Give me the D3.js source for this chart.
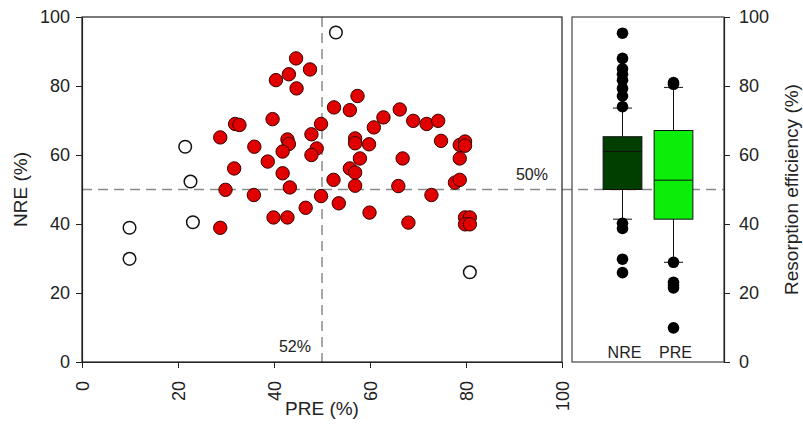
<!DOCTYPE html>
<html><head><meta charset="utf-8">
<script src="https://cdn.jsdelivr.net/npm/d3@7"></script>
<style>body{margin:0;background:#fff}svg{display:block;font-family:"Liberation Sans",Arial,sans-serif}</style>
</head><body><svg id="c" width="803" height="438"></svg>
<script>
// Scatter: filled (red) points
const filledPRE = [44.6,40.4,43.1,44.7,31.9,32.8,39.7,28.8,35.9,42.8,43.1,41.8,31.7,38.7,41.8,29.9,35.8,43.3,28.8,39.9,42.8,
  47.5,57.4,52.5,55.8,62.8,66.2,69.0,71.8,74.2,49.8,60.8,47.8,56.9,56.9,59.8,74.8,78.7,79.8,79.8,48.9,47.8,57.9,66.8,78.7,
  55.8,56.9,52.4,56.9,65.9,77.7,78.7,49.8,72.8,46.6,53.5,59.9,68.0,79.8,80.8,79.8,80.8];
const filledNRE = [88.0,81.7,83.4,79.3,69.0,68.7,70.4,65.1,62.4,64.5,63.2,61.0,56.1,58.1,54.7,49.9,48.4,50.6,38.9,41.9,41.9,
  84.8,77.1,73.8,73.0,70.9,73.2,69.9,69.0,69.9,69.0,68.0,66.0,64.8,63.4,63.1,64.1,62.9,63.9,62.7,61.9,60.0,59.0,59.0,59.0,
  56.1,54.9,52.8,51.1,51.0,52.0,52.8,48.1,48.4,44.7,46.0,43.3,40.4,41.9,41.9,39.9,39.9];
// Scatter: open points
const openPRE = [52.9,21.5,22.6,9.9,9.9,23.1,80.8];
const openNRE = [95.5,62.4,52.3,38.9,29.9,40.5,26.0];

const xTicks = [0,20,40,60,80,100];
const yTicks = [0,20,40,60,80,100];
const refNRE = 50, refPRE = 50;
const refLabelH = "50%", refLabelV = "52%";

// Box plot summaries
const boxCategories = ["NRE","PRE"];
const boxQ1 = [50.0, 41.4];
const boxMedian = [61.0, 52.7];
const boxQ3 = [65.3, 67.1];
const boxWhiskerLow = [41.4, 28.9];
const boxWhiskerHigh = [73.6, 79.6];
const boxOutliersNRE = [95.3,88.0,85.0,83.4,81.7,79.3,77.1,74.0,40.2,38.7,29.8,25.9];
const boxOutliersPRE = [81.0,80.5,28.9,23.1,22.3,21.5,9.9];
const boxColors = ["#003f00","#0aee0a"];

const svg = d3.select("#c");
const x = d3.scaleLinear().domain([0,100]).range([82,562]);
const y = d3.scaleLinear().domain([0,100]).range([362,17]);
const xb = d3.scaleBand().domain(boxCategories).range([572,724]).paddingInner(0).paddingOuter(0.49);

const dash = "10,6", dashColor = "#8a8a8a";

// reference lines (behind)
svg.append("line").attr("x1",x(0)).attr("x2",xb.range()[1]).attr("y1",y(refNRE)).attr("y2",y(refNRE))
  .attr("stroke",dashColor).attr("stroke-width",1.5).attr("stroke-dasharray",dash);
svg.append("line").attr("x1",x(refPRE)).attr("x2",x(refPRE)).attr("y1",y(100)).attr("y2",y(0))
  .attr("stroke",dashColor).attr("stroke-width",1.5).attr("stroke-dasharray",dash);

// frames
svg.append("rect").attr("x",x(0)).attr("y",y(100)).attr("width",x(100)-x(0)).attr("height",y(0)-y(100))
  .attr("fill","none").attr("stroke","#222").attr("stroke-width",1.2);
svg.append("rect").attr("x",xb.range()[0]).attr("y",y(100)).attr("width",xb.range()[1]-xb.range()[0]).attr("height",y(0)-y(100))
  .attr("fill","none").attr("stroke","#444").attr("stroke-width",1.2);

// axes
const fs = 18;
const gy = svg.append("g").attr("transform",`translate(${x(0)},0)`)
  .call(d3.axisLeft(y).tickValues(yTicks).tickSize(6).tickSizeOuter(0).tickPadding(6));
const gx = svg.append("g").attr("transform",`translate(0,${y(0)})`)
  .call(d3.axisBottom(x).tickValues(xTicks).tickSize(6).tickSizeOuter(0));
gx.selectAll("text").attr("transform","rotate(-90)").attr("x",-19).attr("y",0).attr("dy","0.35em").attr("text-anchor","end");
const gr = svg.append("g").attr("transform",`translate(${xb.range()[1]},0)`)
  .call(d3.axisRight(y).tickValues(yTicks).tickSize(6).tickSizeOuter(0).tickPadding(9));
[gy,gx,gr].forEach(g=>{
  g.selectAll("text").attr("font-size",fs).attr("fill","#222").attr("font-family",null);
  g.selectAll("line").attr("stroke","#222");
  g.select(".domain").attr("stroke","#222").attr("stroke-width",1.2);
  g.attr("font-family",null);
});

// axis titles
svg.append("text").attr("x",x(50)).attr("y",415).attr("text-anchor","middle").attr("font-size",19).attr("fill","#222").text("PRE (%)");
svg.append("text").attr("transform",`translate(27,${y(50)}) rotate(-90)`).attr("text-anchor","middle").attr("font-size",19).attr("fill","#222").text("NRE (%)");
svg.append("text").attr("transform",`translate(798,${y(50)}) rotate(-90)`).attr("text-anchor","middle").attr("font-size",19).attr("fill","#222").text("Resorption efficiency (%)");

// ref labels
svg.append("text").attr("x",548).attr("y",180).attr("text-anchor","end").attr("font-size",16).attr("fill","#222").text(refLabelH);
svg.append("text").attr("x",311).attr("y",352).attr("text-anchor","end").attr("font-size",16).attr("fill","#222").text(refLabelV);

// scatter points
const r = 6.7;
svg.append("g").selectAll("circle").data(openPRE.map((p,i)=>[p,openNRE[i]])).join("circle")
  .attr("cx",d=>x(d[0])).attr("cy",d=>y(d[1])).attr("r",r-0.4)
  .attr("fill","#fff").attr("stroke","#111").attr("stroke-width",1.5);
svg.append("g").selectAll("circle").data(filledPRE.map((p,i)=>[p,filledNRE[i]])).join("circle")
  .attr("cx",d=>x(d[0])).attr("cy",d=>y(d[1])).attr("r",r)
  .attr("fill","#e00000").attr("stroke","#3a0000").attr("stroke-width",1);

// box plots
const bw = xb.bandwidth()*0.76, cap = 19;
const outliers = [boxOutliersNRE, boxOutliersPRE];
boxCategories.forEach((c,i)=>{
  const cx = xb(c)+xb.bandwidth()/2;
  const g = svg.append("g");
  g.append("line").attr("x1",cx).attr("x2",cx).attr("y1",y(boxWhiskerLow[i])).attr("y2",y(boxQ1[i])).attr("stroke","#111");
  g.append("line").attr("x1",cx).attr("x2",cx).attr("y1",y(boxQ3[i])).attr("y2",y(boxWhiskerHigh[i])).attr("stroke","#111");
  [boxWhiskerLow[i],boxWhiskerHigh[i]].forEach(v=>
    g.append("line").attr("x1",cx-cap/2).attr("x2",cx+cap/2).attr("y1",y(v)).attr("y2",y(v)).attr("stroke","#111"));
  g.append("rect").attr("x",cx-bw/2).attr("y",y(boxQ3[i])).attr("width",bw).attr("height",y(boxQ1[i])-y(boxQ3[i]))
    .attr("fill",boxColors[i]).attr("stroke","#111").attr("stroke-width",1);
  g.append("line").attr("x1",cx-bw/2).attr("x2",cx+bw/2).attr("y1",y(boxMedian[i])).attr("y2",y(boxMedian[i])).attr("stroke","#111");
  g.selectAll("circle.o").data(outliers[i]).join("circle").attr("class","o")
    .attr("cx",cx).attr("cy",d=>y(d)).attr("r",5.8).attr("fill","#000");
  svg.append("text").attr("x",cx+2).attr("y",358).attr("text-anchor","middle").attr("font-size",16).attr("fill","#222").text(c);
});
</script></body></html>
